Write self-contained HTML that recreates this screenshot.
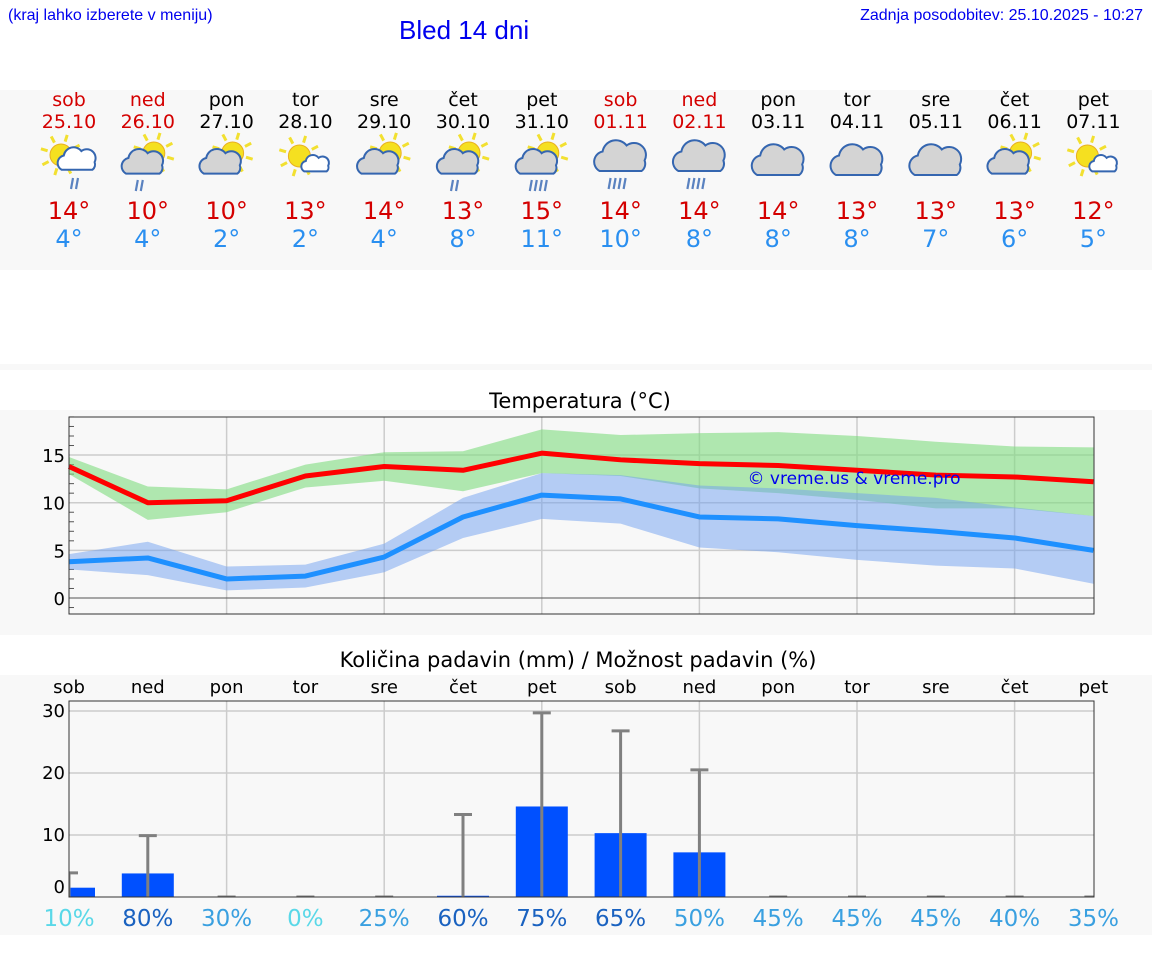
<!DOCTYPE html>
<html><head><meta charset="utf-8">
<style>
body{margin:0;width:1152px;height:975px;background:#fff;font-family:"DejaVu Sans","Liberation Sans",sans-serif;position:relative;overflow:hidden}
.abs{position:absolute}
.day{position:absolute;width:78px;text-align:center;font-size:19px;line-height:22px}
.red{color:#d40000}
.hi{color:#d40000;font-size:24px;line-height:28px}
.lo{color:#2a8ff0;font-size:24px;line-height:28px}
</style></head><body>
<div class="abs" style="left:8px;top:7px;font-size:16px;color:#0000ee;font-family:'Liberation Sans',sans-serif">(kraj lahko izberete v meniju)</div>
<div class="abs" style="left:399px;top:15px;font-size:26px;color:#0000ee;font-family:'Liberation Sans',sans-serif">Bled 14 dni</div>
<div class="abs" style="right:9px;top:7px;font-size:16px;color:#0000ee;font-family:'Liberation Sans',sans-serif">Zadnja posodobitev: 25.10.2025 - 10:27</div>
<div class="abs" style="left:0;top:90px;width:1152px;height:180px;background:#f8f8f8"></div>
<div class="abs" style="left:0;top:364px;width:1152px;height:6px;background:#f8f8f8"></div>
<div id="days"></div>
<div class="abs" style="left:0;top:410px;width:1152px;height:225px;background:#f8f8f8"></div>
<div class="abs" style="left:0;top:675px;width:1152px;height:260px;background:#f8f8f8"></div>
<svg class="abs" style="left:0;top:0" width="1152" height="975" id="chart" font-family="DejaVu Sans, Liberation Sans, sans-serif"></svg>
<script>
const dayNames=["sob","ned","pon","tor","sre","čet","pet","sob","ned","pon","tor","sre","čet","pet"];
const dates=["25.10","26.10","27.10","28.10","29.10","30.10","31.10","01.11","02.11","03.11","04.11","05.11","06.11","07.11"];
const weekend=[1,1,0,0,0,0,0,1,1,0,0,0,0,0];
const hiT=[14,10,10,13,14,13,15,14,14,14,13,13,13,12];
const loT=[4,4,2,2,4,8,11,10,8,8,8,7,6,5];
const icons=["sr","sgr","sg","ss","sg","sgr","sgR","cr","cr","c","c","c","sg","ss"];
const maxV=[13.8,10.0,10.2,12.8,13.8,13.4,15.2,14.5,14.1,13.9,13.4,12.9,12.7,12.2];
const maxHi=[14.8,11.7,11.4,14.0,15.3,15.4,17.7,17.1,17.3,17.4,17.0,16.4,15.9,15.8];
const maxLo=[13.0,8.2,9.0,11.6,12.3,11.2,13.1,12.8,11.5,11.0,10.3,9.4,9.4,8.6];
const minV=[3.8,4.2,2.0,2.3,4.3,8.5,10.8,10.4,8.5,8.3,7.6,7.0,6.3,5.0];
const minHi=[4.6,5.9,3.3,3.5,5.7,10.5,13.1,12.9,11.8,11.5,11.0,10.5,9.5,8.6];
const minLo=[3.0,2.4,0.8,1.1,2.7,6.3,8.3,7.8,5.3,4.8,4.0,3.4,3.1,1.5];
const rain=[1.5,3.8,0,0,0,0.2,14.6,10.3,7.2,0,0,0,0,0];
const rainMax=[3.9,9.9,0,0,0,13.3,29.7,26.8,20.5,0,0,0,0,0];
const prob=[10,80,30,0,25,60,75,65,50,45,45,45,40,35];
const tempTicks=[0,5,10,15];
const rainTicks=[0,10,20,30];

const NS="http://www.w3.org/2000/svg";
const svg=document.getElementById('chart');
function mk(tag,attrs,parent){const e=document.createElementNS(NS,tag);for(const k in attrs)e.setAttribute(k,attrs[k]);(parent||svg).appendChild(e);return e;}
const xd=i=>69+i*78.8;
const yT=v=>598-v*9.53;
const yR=v=>897-v*6.2;

const daysDiv=document.getElementById('days');
for(let i=0;i<14;i++){
  const d=document.createElement('div');
  d.className='day';
  d.style.left=(xd(i)-39)+'px';d.style.top='89px';
  
  
  const c=weekend[i]?'red':'';
  d.innerHTML='<div class="'+c+'">'+dayNames[i]+'</div><div class="'+c+'">'+dates[i]+'</div><div style="height:64px"></div><div class="hi">'+hiT[i]+'°</div><div class="lo">'+loT[i]+'°</div>';
  daysDiv.appendChild(d);
}
function sun(g,cx,cy,r){
  for(let k=0;k<8;k++){const a=k*Math.PI/4+0.3;mk('line',{x1:cx+Math.cos(a)*(r+3),y1:cy+Math.sin(a)*(r+3),x2:cx+Math.cos(a)*(r+10),y2:cy+Math.sin(a)*(r+10),stroke:'#f2e030','stroke-width':3},g);}
  mk('circle',{cx:cx,cy:cy,r:r,fill:'#f5e020',stroke:'#e8b020','stroke-width':1},g);
}
function cloud(g,cx,cy,s,fill){
  const c=mk('g',{transform:`translate(${cx},${cy}) scale(${s})`},g);
  mk('path',{d:'M-14,8 A7,7 0 0 1 -12,-5 A9,9 0 0 1 4,-9 A8,8 0 0 1 16,1 A6,6 0 0 1 14,8 Z',fill:fill,stroke:'#3566b0','stroke-width':2/s},c);
}
function drops(g,cx,cy,n){for(let k=0;k<n;k++)mk('line',{x1:cx+k*5,y1:cy,x2:cx+k*5-2,y2:cy+11,stroke:'#5a82c0','stroke-width':2.2},g);}
for(let i=0;i<14;i++){
  const g=mk('g',{});
  
  
  const cx=xd(i),cy=160,t=icons[i];
  if(t==='sr'){sun(g,cx-8,cy-5,11);cloud(g,cx+8,cy+1,1.1,'#fff');drops(g,cx+4,cy+18,2);}
  if(t==='sgr'||t==='sgR'){sun(g,cx+6,cy-7,11);cloud(g,cx-5,cy+4,1.2,'#d4d4d4');drops(g,cx-10,cy+20,t==='sgR'?4:2);}
  if(t==='sg'){sun(g,cx+6,cy-7,11);cloud(g,cx-6,cy+4,1.2,'#d4d4d4');}
  if(t==='ss'){sun(g,cx-6,cy-4,11);cloud(g,cx+10,cy+5,0.8,'#fff');}
  if(t==='cr'){cloud(g,cx,cy-1,1.5,'#d4d4d4');drops(g,cx-10,cy+18,4);}
  if(t==='c'){cloud(g,cx,cy+3,1.5,'#d4d4d4');}
}

const L=69,R=1094;
mk('text',{x:580,y:408,'font-size':21,'text-anchor':'middle',fill:'#000'}).textContent='Temperatura (°C)';
const tp=mk('g',{});


mk('rect',{x:L,y:417,width:R-L,height:197,fill:'#f8f8f8'},tp);
for(let i=2;i<14;i+=2){mk('line',{x1:xd(i),y1:417,x2:xd(i),y2:614,stroke:'#ccc','stroke-width':1.5},tp);}
tempTicks.forEach(v=>{
  mk('line',{x1:L,y1:yT(v),x2:R,y2:yT(v),stroke:v===0?'#555':'#ccc','stroke-width':v===0?1:1.5},tp);
  const t=mk('text',{x:L-4,y:yT(v)+7,'font-size':18,'text-anchor':'end',fill:'#000'},tp);t.textContent=v;
  
  
});
for(let v=-1;v<=19;v++){if(v%5)mk('line',{x1:L,y1:yT(v),x2:L+5,y2:yT(v),stroke:'#555'},tp);}
function band(hi,lo,fill,op,name){
  let d='M'+hi.map((v,i)=>xd(i)+','+yT(v)).join('L')+'L'+lo.map((v,i)=>xd(i)+','+yT(v)).reverse().join('L')+'Z';
  const p=mk('path',{d:d,fill:fill,'fill-opacity':op},tp);
  
  
}
function line(v,col,name){
  const p=mk('polyline',{points:v.map((y,i)=>xd(i)+','+yT(y)).join(' '),fill:'none',stroke:col,'stroke-width':5,'stroke-linejoin':'round'},tp);
  
  
}
band(maxHi,maxLo,'#7fdc7f',0.6,'max-temp-range');
band(minHi,minLo,'#6f9ff0',0.5,'min-temp-range');
line(maxV,'#ff0000','max-temp-line');
line(minV,'#1e90ff','min-temp-line');
mk('rect',{x:L,y:417,width:R-L,height:197,fill:'none',stroke:'#333','stroke-width':1},tp);
const wm=mk('text',{x:854,y:484,'font-size':17,'text-anchor':'middle',fill:'#0000ee'},tp);wm.textContent='© vreme.us & vreme.pro';



mk('text',{x:578,y:667,'font-size':21,'text-anchor':'middle',fill:'#000'}).textContent='Količina padavin (mm) / Možnost padavin (%)';
const pp=mk('g',{});


const PT=701,PB=897;
mk('rect',{x:L,y:PT,width:R-L,height:PB-PT,fill:'#f8f8f8'},pp);
for(let i=2;i<14;i+=2){mk('line',{x1:xd(i),y1:PT,x2:xd(i),y2:PB,stroke:'#ccc','stroke-width':1.5},pp);}
rainTicks.forEach(v=>{
  if(v)mk('line',{x1:L,y1:yR(v),x2:R,y2:yR(v),stroke:'#ccc','stroke-width':1.5},pp);
  const t=mk('text',{x:L-4,y:yR(v)+(v?6:-4),'font-size':18,'text-anchor':'end',fill:'#000'},pp);t.textContent=v;
});
dayNames.forEach((n,i)=>{const t=mk('text',{x:xd(i),y:693,'font-size':18,'text-anchor':'middle',fill:'#000'},pp);t.textContent=n;});
const cp=mk('clipPath',{id:'pc'});mk('rect',{x:L,y:PT,width:R-L,height:PB-PT},cp);
const bars=mk('g',{'clip-path':'url(#pc)'},pp);
rain.forEach((v,i)=>{
  if(v>0){const b=mk('rect',{x:xd(i)-26,y:yR(v),width:52,height:PB-yR(v),fill:'#0050ff'},bars);
  
  }
  const e=mk('g',{},bars);
  
  
  mk('line',{x1:xd(i),y1:PB,x2:xd(i),y2:yR(rainMax[i]),stroke:'#808080','stroke-width':3},e);
  mk('line',{x1:xd(i)-9,y1:yR(rainMax[i]),x2:xd(i)+9,y2:yR(rainMax[i]),stroke:'#808080','stroke-width':3},e);
});
mk('rect',{x:L,y:PT,width:R-L,height:PB-PT,fill:'none',stroke:'#333','stroke-width':1},pp);
function pcol(p){if(p<=10)return '#5ad8e8';if(p<60)return '#3aa0e0';return '#1a62c0';}
prob.forEach((p,i)=>{const t=mk('text',{x:xd(i),y:926,'font-size':23,'text-anchor':'middle',fill:p===80?'#1a62c0':pcol(p)});t.textContent=p+'%';
  
  });
</script>
</body></html>
